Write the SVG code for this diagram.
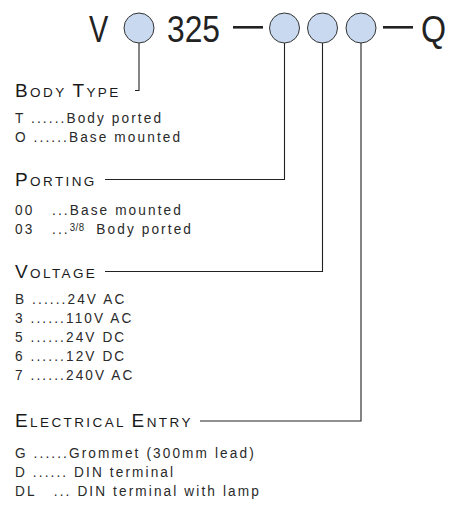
<svg xmlns="http://www.w3.org/2000/svg" width="459" height="506" viewBox="0 0 459 506">
<style>
.code{font-family:"Liberation Sans",Arial,sans-serif;font-size:37px;fill:#222;}
.h{font-family:"Liberation Sans",Arial,sans-serif;fill:#1a1a1a;letter-spacing:2.4px;}
.big{font-size:19px;}
.sm{font-size:13.5px;}
.it{font-family:"Liberation Sans",Arial,sans-serif;font-size:15.5px;fill:#2a2a2a;letter-spacing:2.4px;}
.frac{font-size:11px;letter-spacing:0.5px;}
.bub{fill:#c9d9ef;stroke:#333;stroke-width:1;}
.ln{fill:none;stroke:#222;stroke-width:1.1;}
</style>
<g id="code">
<text class="code" x="89" y="42" transform="translate(89 0) scale(0.78 1) translate(-89 0)">V</text>
<text class="code" x="167" y="42" transform="translate(167 0) scale(0.86 1) translate(-167 0)">325</text>
<rect x="233" y="26" width="30" height="2.6" fill="#222"/>
<rect x="383" y="26" width="30" height="2.6" fill="#222"/>
<text class="code" x="421" y="42" transform="translate(421 0) scale(0.87 1) translate(-421 0)">Q</text>
</g>
<g id="bubble-body"><circle class="bub" cx="139" cy="28" r="15"/></g>
<g id="bubble-porting"><circle class="bub" cx="284.5" cy="28" r="15"/></g>
<g id="bubble-voltage"><circle class="bub" cx="322.5" cy="28" r="15"/></g>
<g id="bubble-entry"><circle class="bub" cx="361" cy="28" r="15"/></g>
<g id="connectors">
<path class="ln" d="M139 43V90.5H135"/>
<path class="ln" d="M284.5 43V179.5H105"/>
<path class="ln" d="M322.5 43V271.5H105"/>
<path class="ln" d="M361 43V421H200"/>
</g>
<g id="body-type">
<text class="h" x="15" y="97"><tspan class="big">B</tspan><tspan class="sm">ODY </tspan><tspan class="big">T</tspan><tspan class="sm">YPE</tspan></text>
<g transform="translate(15 0) scale(0.88 1) translate(-15 0)">
<text class="it" x="15" y="123">T ......Body ported</text>
<text class="it" x="15" y="142">O ......Base mounted</text>
</g>
</g>
<g id="porting">
<text class="h" x="15" y="186"><tspan class="big">P</tspan><tspan class="sm">ORTING</tspan></text>
<g transform="translate(15 0) scale(0.88 1) translate(-15 0)">
<text class="it" x="15" y="215" xml:space="preserve">00   ...Base mounted</text>
<text class="it" x="15" y="234" xml:space="preserve">03   ...<tspan class="frac" dy="-3">3/8</tspan><tspan dy="3">  Body ported</tspan></text>
</g>
</g>
<g id="voltage">
<text class="h" x="15" y="278"><tspan class="big">V</tspan><tspan class="sm">OLTAGE</tspan></text>
<g transform="translate(15 0) scale(0.88 1) translate(-15 0)">
<text class="it" x="15" y="304">B ......24V AC</text>
<text class="it" x="15" y="323">3 ......110V AC</text>
<text class="it" x="15" y="342">5 ......24V DC</text>
<text class="it" x="15" y="361">6 ......12V DC</text>
<text class="it" x="15" y="380">7 ......240V AC</text>
</g>
</g>
<g id="electrical-entry">
<text class="h" x="15" y="427"><tspan class="big">E</tspan><tspan class="sm">LECTRICAL </tspan><tspan class="big">E</tspan><tspan class="sm">NTRY</tspan></text>
<g transform="translate(15 0) scale(0.88 1) translate(-15 0)">
<text class="it" x="15" y="458">G ......Grommet (300mm lead)</text>
<text class="it" x="15" y="477">D ...... DIN terminal</text>
<text class="it" x="15" y="496" xml:space="preserve">DL   ... DIN terminal with lamp</text>
</g>
</g>
</svg>
